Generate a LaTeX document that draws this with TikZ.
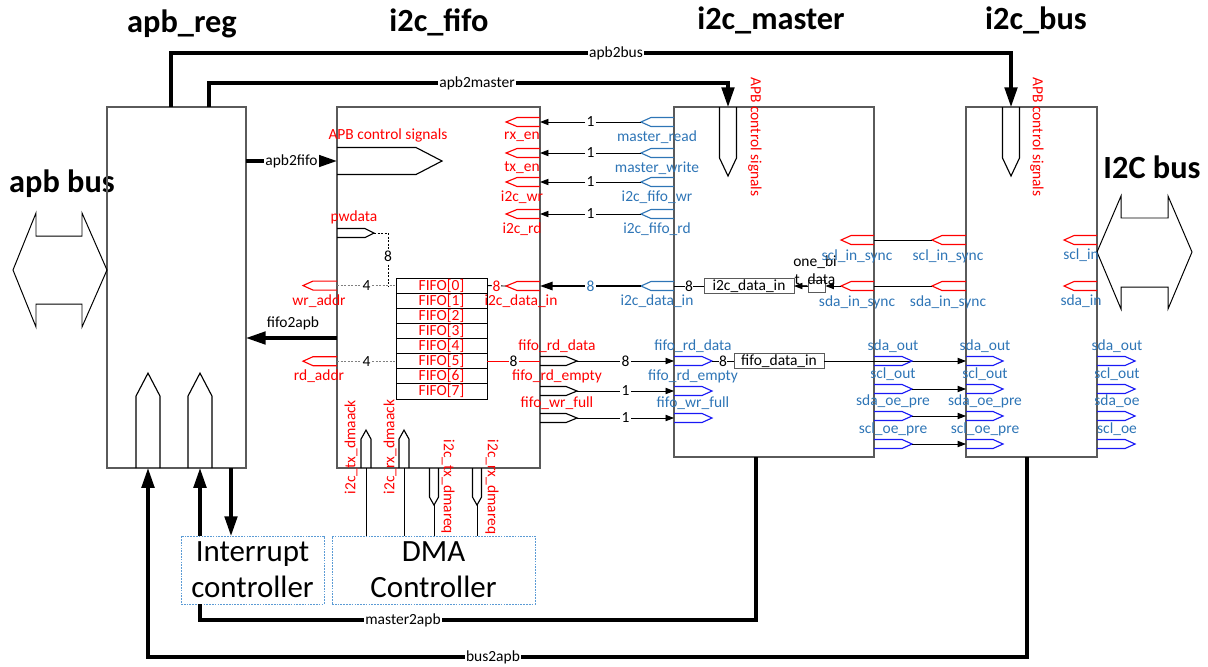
\documentclass[tikz,border=0pt]{standalone}
\usepackage{fontspec}
\setmainfont{Carlito}
\usetikzlibrary{arrows.meta, calc}
\definecolor{sigred}{RGB}{255,0,0}
\definecolor{sigblue}{RGB}{46,117,182}
\definecolor{portblue}{RGB}{25,25,245}
\definecolor{boxgray}{RGB}{90,90,90}
\definecolor{ctrlblue}{RGB}{91,155,213}

\begin{document}
\begin{tikzpicture}[x=0.025cm, y=-0.025cm, font=\fontsize{11}{13}\selectfont,
  blk/.style={draw=boxgray, line width=0.9pt, inner sep=0pt, outer sep=0pt, anchor=north west},
  cell/.style={draw, line width=0.7pt, inner sep=0pt, outer sep=0pt, anchor=north west, minimum width=2.275cm, minimum height=0.378cm, text=sigred},
  smallbox/.style={draw=boxgray, line width=0.7pt, inner sep=0pt, outer sep=0pt, minimum width=2.25cm, minimum height=0.375cm},
  ctrl/.style={draw=ctrlblue, dash pattern=on 1.2pt off 0.8pt, line width=0.7pt, align=center, inner sep=0pt, outer sep=0pt, anchor=north west, minimum height=1.7cm, font=\fontsize{22}{25.5}\selectfont},
  ttl/.style={font=\fontsize{23}{27}\selectfont\bfseries},
  bus/.style={line width=2.2pt},
  busarrow/.style={bus, -{Triangle[length=14pt, width=9pt]}},
  sig/.style={line width=0.6pt, -{Triangle[length=6pt, width=4.5pt]}},
  wire/.style={line width=0.6pt},
  addr/.style={wire, gray, dash pattern=on 1.5pt off 1pt},
  lbl/.style={fill=white, inner sep=0.8pt},
  rtxt/.style={text=sigred},
  btxt/.style={text=sigblue},
  pics/port/.style n args={3}{code={
    \draw[line width=0.8pt] (0,-#2) -- ({#1-#3},-#2) -- (#1,0) -- ({#1-#3},#2) -- (0,#2);
    \coordinate (-base) at (0,0);
    \coordinate (-tip) at (#1,0);
  }}]
\useasboundingbox (0,0) rectangle (1208,666);

% titles
\node[ttl] (tapbreg) at (182,24) {apb\_reg};
\node[ttl] (tfifo) at (439,22) {i2c\_fifo};
\node[ttl] (tmaster) at (771,20) {i2c\_master};
\node[ttl] (tbus) at (1036,20) {i2c\_bus};
\node[ttl] (tapbbus) at (62,184) {apb bus};
\node[ttl] (ti2cbus) at (1152,167) {I2C bus};

% blocks
\node[blk, minimum width=3.475cm, minimum height=9.025cm] (apbreg) at (107,107) {};
\node[blk, minimum width=5.075cm, minimum height=9.025cm] (fifo) at (337,107) {};
\node[blk, minimum width=5cm, minimum height=8.75cm] (master) at (674,107) {};
\node[blk, minimum width=3.275cm, minimum height=8.75cm] (bus) at (966,107) {};
\node[ctrl, minimum width=3.575cm] (intc) at (181,536) {Interrupt\\controller};
\node[ctrl, minimum width=5.075cm] (dma) at (332,536) {DMA\\Controller};

% external buses
\draw[line width=0.7pt] (13,270) -- (36,213) -- (36,236) -- (82,236) -- (82,213) -- (107,270) -- (82,327) -- (82,304) -- (36,304) -- (36,327) -- cycle;
\draw[line width=0.7pt] (1097,252) -- (1121,196) -- (1121,218) -- (1168,218) -- (1168,196) -- (1192,252) -- (1168,309) -- (1168,287) -- (1121,287) -- (1121,309) -- cycle;

% apb control paths
\draw[busarrow] (apbreg.north -| 171,0) |- (1011,53) -- (bus.north -| 1011,0);
\node[lbl] (lapb2bus) at (616,53) {apb2bus};
\draw[busarrow] (apbreg.north -| 209,0) |- (728,83) -- (master.north -| 728,0);
\node[lbl] (lapb2master) at (477,83) {apb2master};
\pic[rotate=-90] (mctl) at (master.north -| 728,0) {port={69}{8.5}{18}};
\node[rtxt, rotate=-90] (lmctl) at (755,137) {APB control signals};
\pic[rotate=-90] (bctl) at (bus.north -| 1011,0) {port={69}{8.5}{18}};
\node[rtxt, rotate=-90] (lbctl) at (1037,137) {APB control signals};
\pic (fctl) at (fifo.west |- 0,161) {port={105}{13.5}{26}};
\node[rtxt] (lfctl) at (388,135) {APB control signals};
\draw[busarrow] (apbreg.east |- 0,161) -- node[lbl] {apb2fifo} (fctl-base);
\draw[busarrow] (fifo.west |- 0,338) -- (apbreg.east |- 0,338);
\node (lfifo2apb) at (293,323) {fifo2apb};

% fifo <- master control
\foreach \nm/\mm/\y/\lab/\labb in {rxen/mrd/122/rx\_en/master\_read, txen/mwr/153/tx\_en/master\_write, i2cwr/fwr/182/i2c\_wr/i2c\_fifo\_wr, i2crd/frd/214/i2c\_rd/i2c\_fifo\_rd} {
  \pic[sigred, rotate=180] (\nm) at (fifo.east |- 0,\y) {port={34}{4.5}{11}};
  \node[rtxt] (l\nm) at (522,\y+15) {\lab};
  \pic[sigblue, rotate=180] (\mm) at (master.west |- 0,\y) {port={33}{4.5}{10}};
  \node[btxt] (l\mm) at (657,\y+15) {\labb};
  \draw[sig] (\mm-tip) -- node[lbl] {1} (\mm-tip -| fifo.east);
}

% fifo array
\foreach \i in {0,...,7}
  \node[cell] (f\i) at (396,{278+15.125*\i}) {FIFO[\i]};

\pic (pwd) at (fifo.west |- 0,233) {port={37}{4.5}{9}};
\node[rtxt] (lpwd) at (354,217) {pwdata};
\draw[wire, dash pattern=on 1.5pt off 1pt] (pwd-tip) -| node[pos=0.72, lbl] {8} (388,286);
\pic[sigred, rotate=180] (wra) at (fifo.west |- f0.west) {port={34}{4.5}{10}};
\node[rtxt] (lwra) at (319,301) {wr\_addr};
\draw[addr] (fifo.west |- f0.west) -- node[lbl, text=black] {4} (f0.west);
\pic[sigred, rotate=180] (rda) at (fifo.west |- f5.west) {port={34}{4.5}{10}};
\node[rtxt] (lrda) at (319,376) {rd\_addr};
\draw[addr] (fifo.west |- f5.west) -- node[lbl, text=black] {4} (f5.west);

% write data
\pic[sigred, rotate=180] (fdin) at (fifo.east |- 0,286) {port={34}{4.5}{11}};
\node[rtxt] (lfdin) at (521,301) {i2c\_data\_in};
\pic[sigblue, rotate=180] (mdin) at (master.west |- 0,286) {port={33}{4.5}{10}};
\node[btxt] (lmdin) at (657,301) {i2c\_data\_in};
\draw[line width=1.1pt, -{Triangle[length=9pt, width=6pt]}] (mdin-tip) -- node[lbl, text=sigblue] {8} (mdin-tip -| fifo.east);
\draw[wire] (f0.east) -- node[lbl, text=sigred, inner sep=0.3pt] {8} (fdin-tip);

% read data and flags
\draw[wire, sigred] (f5.east) -- node[lbl, text=black] {8} (fifo.east |- f5.east);
\foreach \nm/\mm/\y/\lab/\w in {frdd/mrdd/361/fifo\_rd\_data/8, frde/mrde/391/fifo\_rd\_empty/1, fwrf/mwrf/418/fifo\_wr\_full/1} {
  \pic (\nm) at (fifo.east |- 0,\y) {port={37}{4.5}{11}};
  \node[rtxt] (l\nm) at (557,\y-15) {\lab};
  \pic[portblue] (\mm) at (master.west |- 0,\y) {port={38}{4.5}{10}};
  \node[btxt] (l\mm) at (693,\y-15) {\lab};
  \draw[sig] (\nm-tip) -- node[lbl] {\w} (\mm-base);
}
\node[smallbox] (fdbox) at (779,361) {fifo\_data\_in};
\draw[wire] (mrdd-tip) -- node[lbl, inner sep=0.3pt] {8} (fdbox.west);
\draw[sig] (fdbox.east) -- (bus.west |- fdbox.east);

% input sync
\node[smallbox] (idbox) at (749,286) {i2c\_data\_in};
\draw[wire] (idbox.west) -- node[lbl, inner sep=0.3pt] {8} (master.west |- idbox.west);
\node[draw=boxgray, line width=0.7pt, minimum width=0.425cm, minimum height=0.3cm, inner sep=0pt] (obbox) at (816.5,286) {};
\node[align=center, font=\fontsize{11}{12.5}\selectfont] (lob) at (815,271) {one\_bi\\t\_data};
\draw[sig] (obbox.west) -- (idbox.east);
\foreach \nm/\mm/\y/\lab in {mscl/bscl/240/scl\_in\_sync, msda/bsda/286/sda\_in\_sync} {
  \pic[sigred, rotate=180] (\nm) at (master.east |- 0,\y) {port={33}{4.5}{10}};
  \node[btxt] (l\nm) at (857,\y+16) {\lab};
  \pic[sigred, rotate=180] (\mm) at (bus.west |- 0,\y) {port={34}{4.5}{10}};
  \node[btxt] (l\mm) at (948,\y+16) {\lab};
  \draw[wire] (\mm-tip) -- (\nm-base);
}
\draw[sig] (msda-tip) -- (obbox.east);

% outputs
\foreach \nm/\mm/\oo/\y/\lab/\labb in {msdo/bsdo/osdo/361/sda\_out/sda\_out, msco/bsco/osco/389/scl\_out/scl\_out, msdoe/bsdoe/osdoe/416/sda\_oe\_pre/sda\_oe, mscoe/bscoe/oscoe/444/scl\_oe\_pre/scl\_oe} {
  \pic[portblue] (\nm) at (master.east |- 0,\y) {port={38}{4.5}{10}};
  \node[btxt] (l\nm) at (893,\y-15) {\lab};
  \pic[portblue] (\mm) at (bus.west |- 0,\y) {port={37}{4.5}{10}};
  \node[btxt] (l\mm) at (985,\y-15) {\lab};
  \pic[portblue] (\oo) at (bus.east |- 0,\y) {port={38}{4.5}{10}};
  \node[btxt] (l\oo) at (1117,\y-15) {\labb};
}
\foreach \nm/\mm in {msco/bsco, msdoe/bsdoe, mscoe/bscoe}
  \draw[sig] (\nm-tip) -- (\mm-base);
\foreach \nm/\y/\lab in {sclin/240/scl\_in, sdain/286/sda\_in} {
  \pic[sigred, rotate=180] (\nm) at (bus.east |- 0,\y) {port={33}{4.5}{10}};
  \node[btxt] (l\nm) at (1081,\y+15) {\lab};
}

% dma handshake
\pic[rotate=90] (txack) at (fifo.south -| 366,0) {port={38}{5}{9}};
\pic[rotate=90] (rxack) at (fifo.south -| 404,0) {port={38}{5}{9}};
\pic[rotate=-90] (txreq) at (fifo.south -| 434,0) {port={37}{4.5}{8}};
\pic[rotate=-90] (rxreq) at (fifo.south -| 477,0) {port={37}{4.5}{8}};
\draw[wire] (txack-base) -- (txack-base |- dma.north);
\draw[wire] (rxack-base) -- (rxack-base |- dma.north);
\draw[wire] (txreq-tip) -- (txreq-tip |- dma.north);
\draw[wire] (rxreq-tip) -- (rxreq-tip |- dma.north);
\node[rtxt, rotate=90] (ltxack) at (351,447) {i2c\_tx\_dmaack};
\node[rtxt, rotate=90] (lrxack) at (390,447) {i2c\_rx\_dmaack};
\node[rtxt, rotate=-90] (ltxreq) at (448,487) {i2c\_tx\_dmareq};
\node[rtxt, rotate=-90] (lrxreq) at (492,487) {i2c\_rx\_dmareq};

% return paths
\pic[rotate=90] (ap1) at (apbreg.south -| 148,0) {port={95}{12}{23}};
\pic[rotate=90] (ap2) at (apbreg.south -| 200,0) {port={95}{12}{23}};
\draw[busarrow] (intc.north -| 200,0) -- (ap2-base);
\draw[busarrow] (apbreg.south -| 231,0) -- (intc.north -| 231,0);
\draw[busarrow] (bus.south -| 1027,0) |- (148,657) -- (ap1-base);
\node[lbl] (lbus2apb) at (493,657) {bus2apb};
\draw[bus] (master.south -| 756,0) |- (200,620) -- (intc.south -| 200,0);
\node[lbl] (lmaster2apb) at (403,620) {master2apb};
\end{tikzpicture}
\end{document}
